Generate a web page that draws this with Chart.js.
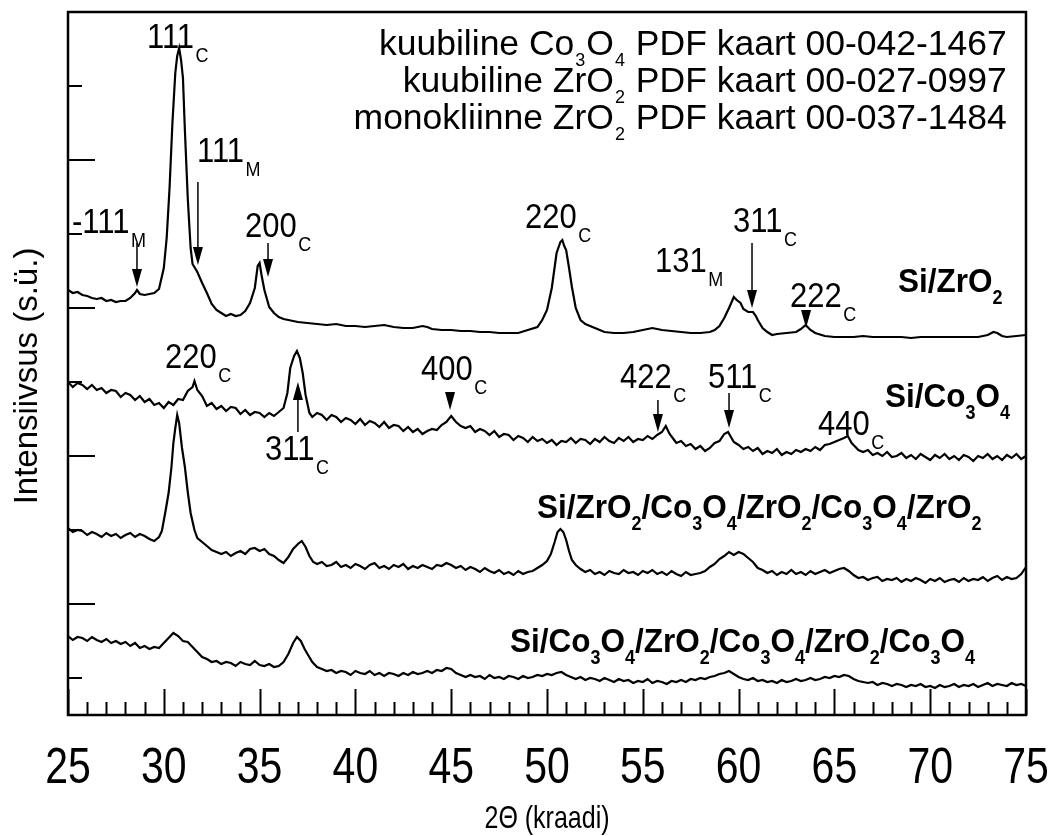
<!DOCTYPE html>
<html><head><meta charset="utf-8">
<script src="https://cdn.jsdelivr.net/npm/chart.js@4/dist/chart.umd.min.js"></script>
<style>html,body{margin:0;padding:0;background:#fff}canvas{display:block}</style>
</head><body>
<canvas id="c" width="1054" height="836"></canvas>
<script>
// ---- data (2θ in degrees, intensity in arbitrary units, traces offset as in the figure) ----
const siZrO2 = [[25,388],[25.25,385],[25.5,386],[25.75,383],[26,382],[26.25,380],[26.5,379],[26.75,380],[27,377],[27.25,378],[27.5,376],[27.75,377],[28,377],[28.25,380],[28.5,385],[28.6,388],[28.75,384],[29,383],[29.25,384],[29.5,385],[29.75,389],[30,410],[30.15,440],[30.3,490],[30.45,555],[30.6,605],[30.7,622],[30.8,630],[30.9,618],[31,600],[31.1,548],[31.25,480],[31.4,430],[31.5,414],[31.75,406],[32,395],[32.25,385],[32.5,374],[32.75,368],[33,365],[33.25,362],[33.5,364],[33.75,362],[34,363],[34.25,367],[34.5,375],[34.75,390],[34.9,412],[35,415],[35.1,403],[35.25,388],[35.5,371],[35.75,365],[36,361],[36.25,359],[36.5,358],[36.75,357],[37,356],[37.5,355],[38,354],[38.5,353],[39,354],[39.5,352],[40,352],[40.5,351],[41,352],[41.5,353],[42,351],[42.5,350],[43,350],[43.5,352],[43.75,351],[44,349],[44.5,348],[45,348],[45.5,347],[46,347],[46.5,346],[47,346],[47.5,345],[48,345],[48.5,345],[49,348],[49.5,351],[49.75,358],[50,368],[50.25,390],[50.5,425],[50.7,436],[50.8,438],[50.9,432],[51,428],[51.15,410],[51.3,391],[51.5,370],[51.75,358],[52,354],[52.5,350],[53,346],[53.5,345],[54,345],[54.5,346],[55,348],[55.5,350],[56,348],[56.5,347],[57,346],[57.5,345],[58,345],[58.5,346],[58.75,348],[59,352],[59.25,360],[59.5,370],[59.75,381],[59.9,378],[60.1,375],[60.25,369],[60.5,366],[60.75,366],[60.9,362],[61,358],[61.25,350],[61.5,346],[61.75,343],[62,344],[62.5,345],[63,346],[63.25,349],[63.5,353],[63.75,348],[64,345],[64.5,342],[65,341],[65.5,341],[66,341],[66.5,342],[67,341],[67.5,341],[68,341],[68.5,341],[69,340],[69.5,341],[70,341],[70.5,341],[71,341],[71.5,341],[72,341],[72.5,341],[73,343],[73.3,346],[73.5,345],[73.75,342],[74,341],[74.5,342],[75,343]];

const siCo3O4 = [[25,296],[25.25,291],[25.5,295],[25.75,293],[26,289],[26.25,293],[26.5,288],[26.75,290],[27,285],[27.25,288],[27.5,287],[27.75,281],[28,285],[28.25,283],[28.5,278],[28.75,282],[29,276],[29.25,279],[29.5,273],[29.75,275],[30,270],[30.25,276],[30.5,273],[30.75,279],[31,278],[31.25,287],[31.5,291],[31.6,297],[31.75,288],[32,282],[32.25,272],[32.5,275],[32.75,269],[33,272],[33.25,267],[33.5,271],[33.75,270],[34,264],[34.25,268],[34.5,263],[34.75,266],[35,265],[35.25,261],[35.5,265],[35.75,262],[36,266],[36.25,270],[36.45,285],[36.6,310],[36.8,322],[36.95,327],[37.1,320],[37.25,305],[37.4,283],[37.6,265],[37.75,261],[38,265],[38.25,263],[38.5,258],[38.75,263],[39,261],[39.25,256],[39.5,260],[39.75,258],[40,254],[40.25,259],[40.5,253],[40.75,257],[41,255],[41.25,251],[41.5,256],[41.75,250],[42,253],[42.25,252],[42.5,247],[42.75,251],[43,246],[43.25,249],[43.5,244],[43.75,247],[44,249],[44.25,248],[44.5,253],[44.75,256],[45,262],[45.25,256],[45.5,252],[45.75,250],[46,252],[46.25,246],[46.5,249],[46.75,247],[47,243],[47.25,247],[47.5,241],[47.75,244],[48,243],[48.25,238],[48.5,242],[48.75,240],[49,236],[49.25,241],[49.5,237],[49.75,239],[50,235],[50.25,238],[50.5,233],[50.75,237],[51,236],[51.25,240],[51.5,235],[51.75,239],[52,238],[52.25,234],[52.5,239],[52.75,236],[53,241],[53.25,237],[53.5,235],[53.75,240],[54,237],[54.25,241],[54.5,236],[54.75,239],[55,238],[55.25,242],[55.5,239],[55.75,243],[56,246],[56.2,252],[56.4,244],[56.6,239],[56.75,235],[57,237],[57.25,232],[57.5,234],[57.75,229],[58,232],[58.25,227],[58.5,230],[58.75,235],[59,237],[59.25,244],[59.45,246],[59.6,241],[59.75,236],[60,233],[60.25,229],[60.5,231],[60.75,227],[61,230],[61.25,224],[61.5,227],[61.75,225],[62,229],[62.25,223],[62.5,226],[62.75,224],[63,228],[63.25,226],[63.5,229],[63.75,227],[64,231],[64.25,228],[64.5,233],[64.75,234],[65,236],[65.25,238],[65.5,240],[65.7,242],[65.9,235],[66.1,231],[66.25,228],[66.5,226],[66.75,228],[67,223],[67.25,225],[67.5,222],[67.75,226],[68,221],[68.25,222],[68.5,225],[68.75,220],[69,223],[69.25,219],[69.5,224],[69.75,221],[70,218],[70.25,223],[70.5,220],[70.75,224],[71,219],[71.25,222],[71.5,218],[71.75,223],[72,221],[72.25,217],[72.5,222],[72.75,220],[73,224],[73.25,219],[73.5,222],[73.75,218],[74,223],[74.25,220],[74.5,224],[74.75,219],[75,222]];

const multiZr = [[25,150],[25.25,146],[25.5,148],[25.75,147],[26,143],[26.25,146],[26.5,144],[26.75,141],[27,145],[27.25,142],[27.5,144],[27.75,140],[28,143],[28.25,145],[28.5,141],[28.75,144],[29,142],[29.25,139],[29.5,137],[29.75,141],[29.9,147],[30.1,168],[30.25,185],[30.4,211],[30.5,235],[30.6,250],[30.7,263],[30.8,255],[30.95,230],[31.1,211],[31.25,186],[31.4,165],[31.6,148],[31.75,140],[32,136],[32.25,132],[32.5,128],[32.75,126],[33,124],[33.25,126],[33.5,122],[33.75,125],[34,127],[34.25,124],[34.5,129],[34.75,130],[35,127],[35.25,129],[35.5,124],[35.75,122],[36,118],[36.25,115],[36.5,121],[36.75,129],[37,134],[37.2,137],[37.4,131],[37.6,122],[37.8,116],[38,114],[38.25,116],[38.5,112],[38.75,113],[39,116],[39.25,111],[39.5,113],[39.75,110],[40,114],[40.25,112],[40.5,109],[40.75,113],[41,115],[41.25,110],[41.5,112],[41.75,109],[42,113],[42.25,111],[42.5,114],[42.75,109],[43,112],[43.25,110],[43.5,113],[43.75,111],[44,109],[44.25,113],[44.5,112],[44.75,115],[45,113],[45.25,110],[45.5,112],[45.75,108],[46,111],[46.25,109],[46.5,106],[46.75,110],[47,107],[47.25,105],[47.5,108],[47.75,104],[48,106],[48.25,103],[48.5,107],[48.75,104],[49,106],[49.25,107],[49.5,110],[49.75,113],[50,117],[50.2,124],[50.4,136],[50.55,146],[50.7,149],[50.85,146],[51,138],[51.15,127],[51.3,118],[51.5,113],[51.75,109],[52,106],[52.25,108],[52.5,104],[52.75,106],[53,103],[53.25,107],[53.5,105],[53.75,104],[54,108],[54.25,105],[54.5,106],[54.75,103],[55,107],[55.25,105],[55.5,108],[55.75,104],[56,106],[56.25,103],[56.5,107],[56.75,104],[57,102],[57.25,106],[57.5,103],[57.75,104],[58,105],[58.25,107],[58.5,111],[58.75,114],[59,119],[59.25,122],[59.5,126],[59.75,123],[60,126],[60.25,124],[60.5,120],[60.75,116],[61,110],[61.25,108],[61.5,105],[61.75,107],[62,103],[62.25,106],[62.5,104],[62.75,108],[63,104],[63.25,106],[63.5,103],[63.75,107],[64,104],[64.25,106],[64.5,108],[64.75,105],[65,107],[65.25,109],[65.5,110],[65.75,107],[66,103],[66.25,100],[66.5,101],[66.75,98],[67,100],[67.25,101],[67.5,97],[67.75,99],[68,98],[68.25,100],[68.5,96],[68.75,99],[69,97],[69.25,100],[69.5,98],[69.75,95],[70,99],[70.25,97],[70.5,100],[70.75,96],[71,98],[71.25,99],[71.5,96],[71.75,100],[72,97],[72.25,99],[72.5,98],[72.75,101],[73,97],[73.25,100],[73.5,102],[73.75,98],[74,101],[74.25,99],[74.5,100],[74.75,104],[75,111]];

const multiCo = [[25,42],[25.25,38],[25.5,41],[25.75,40],[26,37],[26.25,41],[26.5,38],[26.75,36],[27,39],[27.25,35],[27.5,37],[27.75,34],[28,36],[28.25,32],[28.5,35],[28.75,30],[29,32],[29.25,29],[29.5,31],[29.75,30],[30,35],[30.25,40],[30.5,45],[30.75,42],[31,37],[31.25,36],[31.5,31],[31.75,26],[32,21],[32.25,19],[32.5,16],[32.75,17],[33,14],[33.25,16],[33.5,15],[33.75,12],[34,16],[34.25,14],[34.5,13],[34.75,17],[35,13],[35.25,12],[35.5,14],[35.75,11],[36,12],[36.25,16],[36.5,24],[36.75,35],[36.95,41],[37.15,37],[37.35,29],[37.5,24],[37.75,16],[38,11],[38.25,9],[38.5,7],[38.75,8],[39,5],[39.25,7],[39.5,6],[39.75,3],[40,7],[40.25,5],[40.5,4],[40.75,7],[41,3],[41.25,5],[41.5,2],[41.75,5],[42,4],[42.25,2],[42.5,5],[42.75,3],[43,6],[43.25,4],[43.5,5],[43.75,7],[44,5],[44.25,8],[44.5,7],[44.75,10],[45,9],[45.25,5],[45.5,3],[45.75,1],[46,3],[46.25,1],[46.5,2],[46.75,-1],[47,3],[47.25,0],[47.5,1],[47.75,-1],[48,2],[48.25,1],[48.5,-1],[48.75,2],[49,0],[49.25,1],[49.5,3],[49.75,2],[50,4],[50.25,3],[50.5,5],[50.75,6],[51,3],[51.25,1],[51.5,-1],[51.75,1],[52,-2],[52.25,0],[52.5,-1],[52.75,-3],[53,0],[53.25,-2],[53.5,-4],[53.75,-1],[54,-3],[54.25,-2],[54.5,-5],[54.75,-3],[55,-4],[55.25,-1],[55.5,-5],[55.75,-3],[56,-4],[56.25,-6],[56.5,-3],[56.75,-4],[57,-2],[57.25,-4],[57.5,-1],[57.75,-2],[58,0],[58.25,-1],[58.5,1],[58.75,2],[59,4],[59.25,5],[59.5,7],[59.75,4],[60,1],[60.25,-1],[60.5,-2],[60.75,0],[61,-3],[61.25,-2],[61.5,-4],[61.75,-3],[62,-5],[62.25,-2],[62.5,-4],[62.75,-3],[63,-1],[63.25,-3],[63.5,-2],[63.75,0],[64,-2],[64.25,-1],[64.5,1],[64.75,0],[65,2],[65.25,1],[65.5,3],[65.75,2],[66,-1],[66.25,-3],[66.5,-4],[66.75,-5],[67,-4],[67.25,-7],[67.5,-5],[67.75,-6],[68,-8],[68.25,-6],[68.5,-7],[68.75,-9],[69,-7],[69.25,-8],[69.5,-6],[69.75,-9],[70,-8],[70.25,-10],[70.5,-7],[70.75,-9],[71,-8],[71.25,-6],[71.5,-9],[71.75,-7],[72,-8],[72.25,-6],[72.5,-9],[72.75,-7],[73,-5],[73.25,-8],[73.5,-6],[73.75,-7],[74,-8],[74.25,-5],[74.5,-7],[74.75,-6],[75,-8]];

const xTickLabels = [25,30,35,40,45,50,55,60,65,70,75];
const yMajorTicks = [74,222,370,518];
const yMinorTicks = [0,148,296,444,592];

// ---- annotation texts (each part: [text, isSubscript]) ----
const peakLabels = [
  {parts:[['111'],['C',1]], x:29.12, y:630},
  {parts:[['111'],['M',1]], x:31.73, y:516},
  {parts:[['-111'],['M',1]], x:25.21, y:445},
  {parts:[['200'],['C',1]], x:34.24, y:441},
  {parts:[['220'],['C',1]], x:48.85, y:450},
  {parts:[['131'],['M',1]], x:55.64, y:406},
  {parts:[['311'],['C',1]], x:59.71, y:446},
  {parts:[['222'],['C',1]], x:62.68, y:371},
  {parts:[['220'],['C',1]], x:30.06, y:310},
  {parts:[['311'],['C',1]], x:35.28, y:218},
  {parts:[['400'],['C',1]], x:43.42, y:298},
  {parts:[['422'],['C',1]], x:53.81, y:290},
  {parts:[['511'],['C',1]], x:58.40, y:290},
  {parts:[['440'],['C',1]], x:64.14, y:243}
];
const sampleLabels = [
  {parts:[['Si/ZrO'],['2',1]], x:68.32, y:386},
  {parts:[['Si/Co'],['3',1],['O'],['4',1]], x:67.64, y:271},
  {parts:[['Si/ZrO'],['2',1],['/Co'],['3',1],['O'],['4',1],['/ZrO'],['2',1],['/Co'],['3',1],['O'],['4',1],['/ZrO'],['2',1]], x:49.48, y:160},
  {parts:[['Si/Co'],['3',1],['O'],['4',1],['/ZrO'],['2',1],['/Co'],['3',1],['O'],['4',1],['/ZrO'],['2',1],['/Co'],['3',1],['O'],['4',1]], x:48.07, y:26}
];
const legendLines = [
  {parts:[['kuubiline Co'],['3',1],['O'],['4',1],[' PDF kaart 00-042-1467']], x:74.0, y:623},
  {parts:[['kuubiline ZrO'],['2',1],[' PDF kaart 00-027-0997']], x:74.0, y:586},
  {parts:[['monokliinne ZrO'],['2',1],[' PDF kaart 00-037-1484']], x:74.0, y:549}
];
const arrows = [
  {x:28.60, from:435, to:391}, {x:31.78, from:496, to:413}, {x:35.44, from:435, to:401},
  {x:60.70, from:435, to:370}, {x:63.52, from:368, to:350}, {x:37.0, from:246, to:296},
  {x:44.94, from:285, to:268}, {x:55.79, from:278, to:246}, {x:59.5, from:285, to:250}
];

const FONT = '"Liberation Sans", Arial, Helvetica, sans-serif';

function fillStretched(ctx, text, x, y, sy) {
  ctx.save(); ctx.translate(x, y); ctx.scale(1, sy); ctx.fillText(text, 0, 0); ctx.restore();
}
function drawRich(ctx, parts, x, y, o) {
  const mainF = (o.bold ? 'bold ' : '') + o.size + 'px ' + FONT;
  const subF = (o.bold ? 'bold ' : '') + o.sub + 'px ' + FONT;
  let total = 0;
  parts.forEach(p => { ctx.font = p[1] ? subF : mainF; total += ctx.measureText(p[0]).width + (p[1] ? 2 * o.gap : 0); });
  let cx = o.align === 'right' ? x - total : x;
  ctx.textAlign = 'left'; ctx.textBaseline = 'alphabetic';
  parts.forEach(p => {
    if (p[1]) { cx += o.gap; ctx.font = subF; fillStretched(ctx, p[0], cx, y + o.dy, o.sy); cx += ctx.measureText(p[0]).width + o.gap; }
    else { ctx.font = mainF; fillStretched(ctx, p[0], cx, y, o.sy); cx += ctx.measureText(p[0]).width; }
  });
}

const decor = {
  id: 'decor',
  afterDatasetsDraw(chart) {
    const ctx = chart.ctx, a = chart.chartArea, xs = chart.scales.x, ys = chart.scales.y;
    ctx.save();
    ctx.fillStyle = '#000'; ctx.strokeStyle = '#000';
    ctx.lineWidth = 2.5;
    ctx.strokeRect(a.left, a.top, a.right - a.left, a.bottom - a.top);
    ctx.lineWidth = 2;
    for (let v = xs.min; v <= xs.max; v += 1) {
      const px = Math.round(xs.getPixelForValue(v)) + 0.5;
      const len = (v % 5 === 0) ? 26 : 13;
      ctx.beginPath(); ctx.moveTo(px, a.bottom); ctx.lineTo(px, a.bottom - len); ctx.stroke();
    }
    yMajorTicks.forEach(v => { const py = Math.round(ys.getPixelForValue(v)); ctx.beginPath(); ctx.moveTo(a.left, py); ctx.lineTo(a.left + 27, py); ctx.stroke(); });
    yMinorTicks.forEach(v => { const py = Math.round(ys.getPixelForValue(v)); ctx.beginPath(); ctx.moveTo(a.left, py); ctx.lineTo(a.left + 14, py); ctx.stroke(); });
    ctx.font = '41px ' + FONT; ctx.textAlign = 'center'; ctx.textBaseline = 'alphabetic';
    xTickLabels.forEach(v => fillStretched(ctx, String(v), xs.getPixelForValue(v), 783, 1.2));
    ctx.font = '25px ' + FONT;
    fillStretched(ctx, '2\u0398 (kraadi)', (a.left + a.right) / 2, 828, 1.25);
    ctx.save(); ctx.translate(37, 376); ctx.rotate(-Math.PI / 2);
    ctx.font = '33px ' + FONT; ctx.textAlign = 'center';
    ctx.fillText('Intensiivsus (s.\u00fc.)', 0, 0); ctx.restore();
    arrows.forEach(ar => {
      const px = xs.getPixelForValue(ar.x), y0 = ys.getPixelForValue(ar.from), y1 = ys.getPixelForValue(ar.to);
      const dir = y1 > y0 ? 1 : -1, head = 18, hw = 5;
      ctx.lineWidth = 1.5;
      ctx.beginPath(); ctx.moveTo(px, y0); ctx.lineTo(px, y1 - dir * head * 0.8); ctx.stroke();
      ctx.beginPath(); ctx.moveTo(px, y1); ctx.lineTo(px - hw, y1 - dir * head); ctx.lineTo(px + hw, y1 - dir * head); ctx.closePath(); ctx.fill();
    });
    peakLabels.forEach(l => drawRich(ctx, l.parts, xs.getPixelForValue(l.x), ys.getPixelForValue(l.y), {size:31, sub:18, dy:14, gap:1.5, sy:1.15}));
    sampleLabels.forEach(l => drawRich(ctx, l.parts, xs.getPixelForValue(l.x), ys.getPixelForValue(l.y), {size:31.5, sub:18, dy:12, gap:0, bold:true, sy:1.08}));
    legendLines.forEach(l => drawRich(ctx, l.parts, xs.getPixelForValue(l.x), ys.getPixelForValue(l.y), {size:35.5, sub:18, dy:11, gap:1, align:'right', sy:1.0}));
    ctx.restore();
  }
};

const toXY = arr => arr.map(p => ({x: p[0], y: p[1]}));
const ds = (label, arr) => ({label, data: toXY(arr), borderColor:'#000', borderWidth:2.2, pointRadius:0, tension:0, fill:false});

new Chart(document.getElementById('c'), {
  type: 'line',
  data: { datasets: [ds('Si/ZrO2', siZrO2), ds('Si/Co3O4', siCo3O4), ds('Si/ZrO2/Co3O4/ZrO2/Co3O4/ZrO2', multiZr), ds('Si/Co3O4/ZrO2/Co3O4/ZrO2/Co3O4', multiCo)] },
  options: {
    responsive: false, animation: false, devicePixelRatio: 1,
    layout: { padding: { left: 68, right: 28, top: 12, bottom: 121 } },
    plugins: { legend: { display: false }, tooltip: { enabled: false } },
    scales: {
      x: { type: 'linear', min: 25, max: 75, display: false },
      y: { type: 'linear', min: -37, max: 666, display: false }
    }
  },
  plugins: [decor]
});
</script>
</body></html>
